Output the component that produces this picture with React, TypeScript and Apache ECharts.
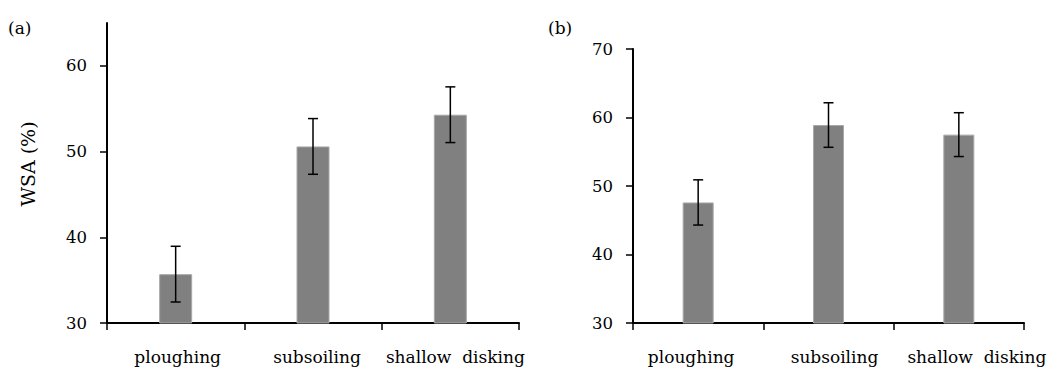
import React, { useEffect, useRef } from "react";
import * as echarts from "echarts";

const categories = ["ploughing", "subsoiling", "shallow  disking"];
const wsaA = [35.7, 50.6, 54.3];
const errA = [3.25, 3.25, 3.25];
const wsaB = [47.6, 58.9, 57.5];
const errB = [3.3, 3.25, 3.2];
const ticksA = [30, 40, 50, 60];
const ticksB = [30, 40, 50, 60, 70];

const FONT = "DejaVu Serif";

function errorItem(params: any, api: any) {
  const x = api.value(0);
  const v = api.value(1);
  const e = api.value(2);
  const top = api.coord([x, v + e]);
  const bot = api.coord([x, v - e]);
  const half = 5;
  const style = { stroke: "#000", lineWidth: 1.5 };
  return {
    type: "group",
    children: [
      { type: "line", shape: { x1: top[0], y1: top[1], x2: bot[0], y2: bot[1] }, style },
      { type: "line", shape: { x1: top[0] - half, y1: top[1], x2: top[0] + half, y2: top[1] }, style },
      { type: "line", shape: { x1: bot[0] - half, y1: bot[1], x2: bot[0] + half, y2: bot[1] }, style },
    ],
  };
}

// label horizontal shifts (px) to mimic the reference's label placement
function richFor(shifts: number[]) {
  const rich: any = {};
  shifts.forEach((s, i) => {
    rich["c" + i] = {
      color: "#000",
      fontFamily: FONT,
      fontSize: 17,
      padding: s >= 0 ? [0, 0, 0, 2 * s] : [0, -2 * s, 0, 0],
    };
  });
  return rich;
}

export default function App() {
  const ref = useRef<HTMLDivElement>(null);
  useEffect(() => {
    if (!ref.current) return;
    const chart = echarts.init(ref.current, null, { renderer: "svg" });
    const axisLine = { show: true, lineStyle: { color: "#000", width: 2 } };
    const axisTick = { show: true, inside: false, length: 7, lineStyle: { color: "#000", width: 1.5 } };
    const makeX = (gridIndex: number, shifts: number[]) => ({
      type: "category",
      gridIndex,
      data: categories,
      boundaryGap: true,
      axisLine,
      axisTick: { ...axisTick, alignWithLabel: false, interval: 0 },
      axisLabel: {
        color: "#000",
        fontFamily: FONT,
        fontSize: 17,
        margin: 25,
        interval: 0,
        formatter: (v: string, i: number) => `{c${i}|${v}}`,
        rich: richFor(shifts),
      },
      splitLine: { show: false },
    });
    const yAxisBase = {
      type: "value",
      axisLine,
      splitLine: { show: false },
    };
    chart.setOption({
      animation: false,
      backgroundColor: "#fff",
      textStyle: { fontFamily: FONT },
      graphic: [
        { type: "text", left: 8, top: 19, style: { text: "(a)", fontFamily: FONT, fontSize: 17, fill: "#000" } },
        { type: "text", left: 548, top: 19, style: { text: "(b)", fontFamily: FONT, fontSize: 17, fill: "#000" } },
        {
          type: "text",
          x: 28,
          y: 164,
          rotation: Math.PI / 2,
          style: {
            text: "WSA (%)",
            fontFamily: FONT,
            fontSize: 19,
            fill: "#000",
            textAlign: "center",
            textVerticalAlign: "middle",
          },
        },
      ],
      grid: [
        { left: 107, right: 532, top: 23, bottom: 44, containLabel: false },
        { left: 633, right: 27, top: 49, bottom: 44, containLabel: false },
      ],
      xAxis: [makeX(0, [2, 4, 5]), makeX(1, [-7, 6, 18])],
      yAxis: [
        {
          ...yAxisBase,
          gridIndex: 0,
          min: 30,
          max: 65,
          axisTick: { ...axisTick, customValues: ticksA },
          axisLabel: { color: "#000", fontFamily: FONT, fontSize: 16.5, margin: 20, customValues: ticksA },
        },
        {
          ...yAxisBase,
          gridIndex: 1,
          min: 30,
          max: 70,
          interval: 10,
          axisTick: { ...axisTick, customValues: ticksB },
          axisLabel: { color: "#000", fontFamily: FONT, fontSize: 16.5, margin: 20, customValues: ticksB },
        },
      ],
      series: [
        {
          type: "bar",
          xAxisIndex: 0,
          yAxisIndex: 0,
          data: wsaA,
          barWidth: 33,
          itemStyle: { color: "#808080", borderColor: "#a8a8a8", borderWidth: 1 },
        },
        {
          type: "bar",
          xAxisIndex: 1,
          yAxisIndex: 1,
          data: wsaB,
          barWidth: 31,
          itemStyle: { color: "#808080", borderColor: "#a8a8a8", borderWidth: 1 },
        },
        {
          type: "custom",
          xAxisIndex: 0,
          yAxisIndex: 0,
          renderItem: errorItem,
          data: wsaA.map((v, i) => [i, v, errA[i]]),
          z: 10,
        },
        {
          type: "custom",
          xAxisIndex: 1,
          yAxisIndex: 1,
          renderItem: errorItem,
          data: wsaB.map((v, i) => [i, v, errB[i]]),
          z: 10,
        },
      ],
    });
    return () => chart.dispose();
  }, []);
  return (
    <div
      ref={ref}
      style={{ position: "fixed", left: 0, top: 0, width: 1051, height: 367, background: "#fff" }}
    />
  );
}
